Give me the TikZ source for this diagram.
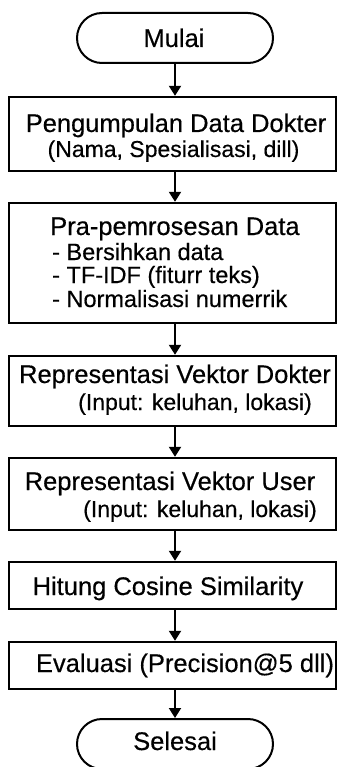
\documentclass[tikz,border=0pt]{standalone}
\usepackage{fontspec}
\setmainfont{Liberation Sans}[FakeBold=0.4]
\usetikzlibrary{arrows.meta}
\tikzset{
  x=1pt, y=-1pt,
  box/.style={draw=black, line width=2.4pt, rectangle, inner sep=0pt, minimum width=327pt},
  term/.style={draw=black, line width=2pt, rectangle, rounded corners=25pt, inner sep=0pt, minimum width=196pt, minimum height=50pt},
  arr/.style={line width=2pt, -{Triangle[width=12pt,length=10pt]}},
  ttl/.style={anchor=base, inner sep=0pt, font=\fontsize{25.5}{28}\selectfont},
  sub/.style={anchor=base, inner sep=0pt, font=\fontsize{23}{26}\selectfont},
}
\begin{document}
\begin{tikzpicture}
\useasboundingbox (0,0) rectangle (339,767);
\clip (0,0) rectangle (339,767);
\fill[white] (0,0) rectangle (339,767);
% shapes
\node[term] (m) at (175,38) {};
\node[box, minimum height=74pt] (b1) at (172.5,134) {};
\node[box, minimum height=120pt] (b2) at (172.5,263) {};
\node[box, minimum height=70pt] (b3) at (172.5,391) {};
\node[box, minimum height=72pt] (b4) at (172.5,494) {};
\node[box, minimum height=47pt] (b5) at (172.5,585.5) {};
\node[box, minimum height=47pt] (b6) at (172.5,665.5) {};
\node[term] (s) at (175,744) {};
% texts
\node[ttl] (tm) at (174,47) {Mulai};
\node[ttl] (t1) at (176,132) {Pengumpulan Data Dokter};
\node[sub] (u1) at (173.5,157) {(Nama, Spesialisasi, dill)};
\node[ttl, anchor=base west] (t2) at (50,235) {Pra-pemrosesan Data};
\node[sub, anchor=base west, font=\fontsize{23.5}{26}\selectfont] (u2a) at (52,260) {- Bersihkan data};
\node[sub, anchor=base west, font=\fontsize{23.5}{26}\selectfont] (u2b) at (52,283) {- TF-IDF (fiturr teks)};
\node[sub, anchor=base west, font=\fontsize{23.5}{26}\selectfont] (u2c) at (52,307) {- Normalisasi numerrik};
\node[ttl] (t3) at (175,383) {Representasi Vektor Dokter};
\node[sub] (u3) at (195,410) {(Input: keluhan, lokasi)};
\node[ttl] (t4) at (170,490) {Representasi Vektor User};
\node[sub] (u4) at (200,517) {(Input: keluhan, lokasi)};
\node[ttl] (t5) at (168,595) {Hitung Cosine Similarity};
\node[ttl] (t6) at (185,672) {Evaluasi (Precision@5 dll)};
\node[ttl] (ts) at (175,750) {Selesai};
% connectors
\draw[arr] (m.south) -- (m.south |- b1.north);
\draw[arr] (b1.south -| m.south) -- (b2.north -| m.south);
\draw[arr] (b2.south -| m.south) -- (b3.north -| m.south);
\draw[arr] (b3.south -| m.south) -- (b4.north -| m.south);
\draw[arr] (b4.south -| m.south) -- (b5.north -| m.south);
\draw[arr] (b5.south -| m.south) -- (b6.north -| m.south);
\draw[arr] (b6.south -| m.south) -- (s.north);
\end{tikzpicture}
\end{document}
